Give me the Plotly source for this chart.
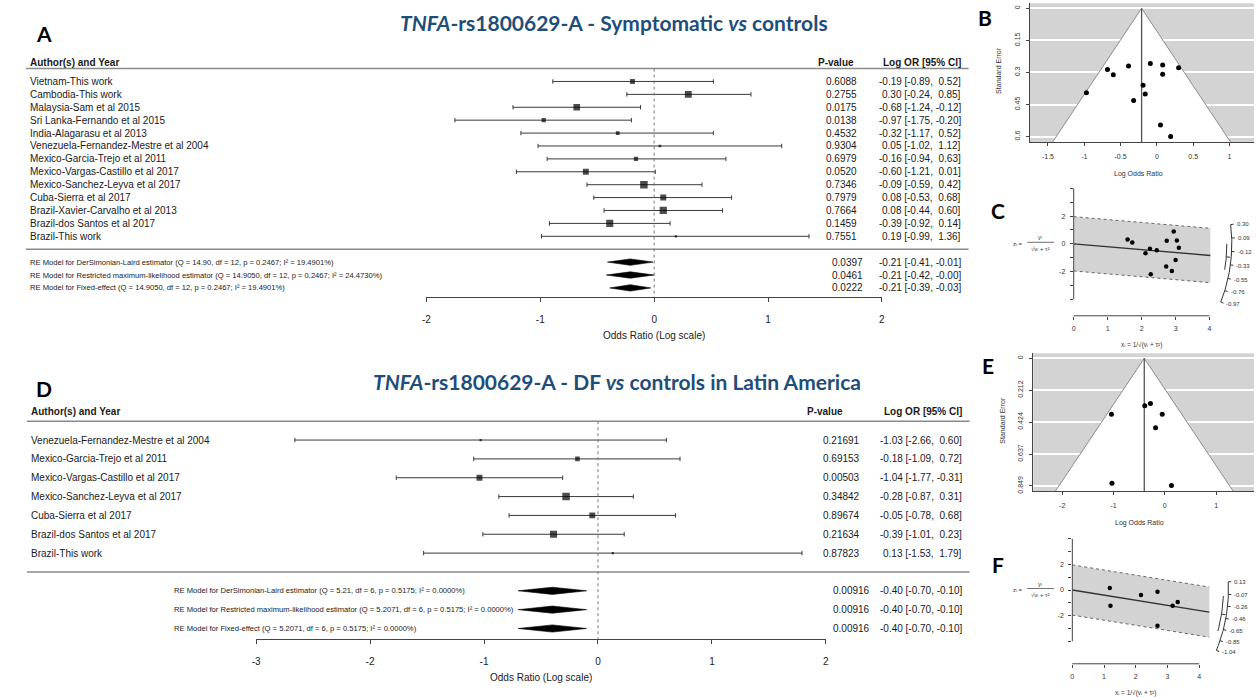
import numpy as np
import plotly.graph_objects as go

W, H = 1258, 697
SANS = "Liberation Sans, Arial, DejaVu Sans, sans-serif"
HEAD = "Lato, Open Sans, sans-serif"
TITLE_BLUE = "#1F4E79"
GREY_BG = "#D3D3D3"

# ---------------- Symptomatic vs controls ----------------
sym_studies = [
    "Vietnam-This work", "Cambodia-This work", "Malaysia-Sam et al 2015",
    "Sri Lanka-Fernando et al 2015", "India-Alagarasu et al 2013",
    "Venezuela-Fernandez-Mestre et al 2004", "Mexico-Garcia-Trejo et al 2011",
    "Mexico-Vargas-Castillo et al 2017", "Mexico-Sanchez-Leyva et al 2017",
    "Cuba-Sierra et al 2017", "Brazil-Xavier-Carvalho et al 2013",
    "Brazil-dos Santos et al 2017", "Brazil-This work",
]
sym_logor = [-0.19, 0.30, -0.68, -0.97, -0.32, 0.05, -0.16, -0.60, -0.09, 0.08, 0.08, -0.39, 0.19]
sym_lo = [-0.89, -0.24, -1.24, -1.75, -1.17, -1.02, -0.94, -1.21, -0.59, -0.53, -0.44, -0.92, -0.99]
sym_hi = [0.52, 0.85, -0.12, -0.20, 0.52, 1.12, 0.63, 0.01, 0.42, 0.68, 0.60, 0.14, 1.36]
sym_p = [0.6088, 0.2755, 0.0175, 0.0138, 0.4532, 0.9304, 0.6979, 0.0520, 0.7346, 0.7979, 0.7664, 0.1459, 0.7551]
sym_models = [
    "RE Model for DerSimonian-Laird estimator (Q = 14.90, df = 12, p = 0.2467; I² = 19.4901%)",
    "RE Model for Restricted maximum-likelihood estimator (Q = 14.9050, df = 12, p = 0.2467; I² = 24.4730%)",
    "RE Model for Fixed-effect (Q = 14.9050, df = 12, p = 0.2467; I² = 19.4901%)",
]
sym_model_p = [0.0397, 0.0461, 0.0222]
sym_model_est = [-0.21, -0.21, -0.21]
sym_model_lo = [-0.41, -0.42, -0.39]
sym_model_hi = [-0.01, -0.00, -0.03]
sym_tau2 = 0.038  # between-study variance used by the radial plot
sym_arc_ticks = [0.30, 0.09, -0.12, -0.33, -0.55, -0.76, -0.97]
sym_se_ticks = ["0", "0.15", "0.3", "0.45", "0.6"]
sym_lor_ticks = [-1.5, -1, -0.5, 0, 0.5, 1]

# ---------------- DF vs controls in Latin America ----------------
df_studies = [
    "Venezuela-Fernandez-Mestre et al 2004", "Mexico-Garcia-Trejo et al 2011",
    "Mexico-Vargas-Castillo et al 2017", "Mexico-Sanchez-Leyva et al 2017",
    "Cuba-Sierra et al 2017", "Brazil-dos Santos et al 2017", "Brazil-This work",
]
df_logor = [-1.03, -0.18, -1.04, -0.28, -0.05, -0.39, 0.13]
df_lo = [-2.66, -1.09, -1.77, -0.87, -0.78, -1.01, -1.53]
df_hi = [0.60, 0.72, -0.31, 0.31, 0.68, 0.23, 1.79]
df_p = [0.21691, 0.69153, 0.00503, 0.34842, 0.89674, 0.21634, 0.87823]
df_models = [
    "RE Model for DerSimonian-Laird estimator (Q = 5.21, df = 6, p = 0.5175; I² = 0.0000%)",
    "RE Model for Restricted maximum-likelihood estimator (Q = 5.2071, df = 6, p = 0.5175; I² = 0.0000%)",
    "RE Model for Fixed-effect (Q = 5.2071, df = 6, p = 0.5175; I² = 0.0000%)",
]
df_model_p = [0.00916, 0.00916, 0.00916]
df_model_est = [-0.40, -0.40, -0.40]
df_model_lo = [-0.70, -0.70, -0.70]
df_model_hi = [-0.10, -0.10, -0.10]
df_tau2 = 0.0
df_arc_ticks = [0.13, -0.07, -0.26, -0.46, -0.65, -0.85, -1.04]
df_se_ticks = ["0", "0.212", "0.424", "0.637", "0.849"]
df_lor_ticks = [-2, -1, 0, 1]


def px(x):
    return x / W


def py(y):
    return 1 - y / H


def ax_names(n):
    s = "" if n == 1 else str(n)
    return "x" + s, "y" + s, "xaxis" + s, "yaxis" + s


fig = go.Figure()
annotations = []
shapes = []
layout_axes = {}


def add_text(x, y, s, size=10, xanchor="left", color="#1a1a1a", family=SANS, angle=0):
    annotations.append(dict(
        x=px(x), y=py(y), xref="paper", yref="paper", text=s, showarrow=False,
        xanchor=xanchor, yanchor="middle", textangle=angle, borderpad=0,
        font=dict(size=size, color=color, family=family)))


def paper_line(x0, y0, x1, y1, color="#8a8a8a", width=1.5, dash="solid"):
    shapes.append(dict(type="line", xref="paper", yref="paper",
                       x0=px(x0), x1=px(x1), y0=py(y0), y1=py(y1),
                       line=dict(color=color, width=width, dash=dash)))


def ci_text(e, l, h):
    return f"{e:.2f} [{l:.2f}, {h:5.2f}]".replace("  ", " \u00a0")


def forest(n, studies, est, lo, hi, pvals, pdec, models, mp, mest, mlo, mhi, g):
    xa, ya, xk, yk = ax_names(n)
    est, lo, hi = np.array(est), np.array(lo), np.array(hi)
    k = len(studies)
    rows = np.arange(k)
    mrows = k + 1 + np.arange(len(models))
    row_py = lambda r: g["row0"] + g["step"] * r
    r_top = (g["top"] - g["row0"]) / g["step"]
    r_axis = (g["axis"] - g["row0"]) / g["step"]
    x_left = g["zero"] + g["unit"] * g["xmin"]
    x_right = g["zero"] + g["unit"] * g["xmax"]

    ticks = list(range(g["xmin"], g["xmax"] + 1))
    layout_axes[xk] = dict(
        domain=[px(x_left), px(x_right)], range=[g["xmin"], g["xmax"]], anchor=ya,
        showline=True, linecolor="#444", linewidth=1, ticks="outside", ticklen=4,
        tickcolor="#444", tickvals=ticks, ticktext=[str(t) for t in ticks],
        tickfont=dict(size=10, family=SANS, color="#222"), ticklabelstandoff=9,
        showgrid=False, zeroline=False, fixedrange=True)
    layout_axes[yk] = dict(
        domain=[py(g["axis"]), py(g["top"])], range=[r_axis, r_top], anchor=xa,
        visible=False, showgrid=False, zeroline=False, fixedrange=True)

    # header and separator rules, dotted reference line at zero
    paper_line(g["rule_x0"], row_py(-1.0), g["rule_x1"], row_py(-1.0))
    paper_line(g["rule_x0"], row_py(k), g["rule_x1"], row_py(k))
    paper_line(g["zero"], row_py(-1.0), g["zero"], g["axis"], color="#777", width=1, dash="dot")

    # confidence intervals with end caps
    cx, cy, kx, ky = [], [], [], []
    cap = 2.2 / g["step"]
    for r, l, h in zip(rows, lo, hi):
        cx += [l, h, None]
        cy += [r, r, None]
        kx += [l, l, None, h, h, None]
        ky += [r - cap, r + cap, None, r - cap, r + cap, None]
    fig.add_trace(go.Scatter(x=cx, y=cy, mode="lines", line=dict(color="#3a3a3a", width=1),
                             xaxis=xa, yaxis=ya, hoverinfo="skip", showlegend=False))
    fig.add_trace(go.Scatter(x=kx, y=ky, mode="lines", line=dict(color="#3a3a3a", width=1),
                             xaxis=xa, yaxis=ya, hoverinfo="skip", showlegend=False))

    # squares sized by precision
    prec = 3.92 / (hi - lo)
    size = 2.2 + 5.3 * (prec - prec.min()) / (prec.max() - prec.min())
    fig.add_trace(go.Scatter(x=est, y=rows, mode="markers",
                             marker=dict(symbol="square", size=size, color="black", line=dict(width=0)),
                             xaxis=xa, yaxis=ya, hoverinfo="skip", showlegend=False))

    # pooled estimates as diamonds
    dh = g["diamond"] / g["step"]
    for r, e, l, h in zip(mrows, mest, mlo, mhi):
        fig.add_trace(go.Scatter(x=[l, e, h, e, l], y=[r, r - dh, r, r + dh, r], mode="lines",
                                 fill="toself", fillcolor="black", line=dict(color="black", width=0.6),
                                 xaxis=xa, yaxis=ya, hoverinfo="skip", showlegend=False))

    # text columns
    add_text(g["label_x"], row_py(-1.5), "<b>Author(s) and Year</b>", size=10)
    add_text(g["phead_x"], row_py(-1.5), "<b>P-value</b>", size=10, xanchor="center")
    add_text(g["or_x"], row_py(-1.5), "<b>Log OR [95% CI]</b>", size=10, xanchor="right")
    for r, s, p, e, l, h in zip(rows, studies, pvals, est, lo, hi):
        add_text(g["label_x"], row_py(r), s, size=10)
        add_text(g["p_x"], row_py(r), f"{p:.{pdec}f}", size=10, xanchor="right")
        add_text(g["or_x"], row_py(r), ci_text(e, l, h), size=10, xanchor="right")
    for r, s, p, e, l, h in zip(mrows, models, mp, mest, mlo, mhi):
        add_text(g["mlabel_x"], row_py(r), s, size=7.6)
        add_text(g["mp_x"], row_py(r), f"{p:.{pdec}f}", size=10, xanchor="right")
        add_text(g["or_x"], row_py(r), ci_text(e, l, h), size=10, xanchor="right")
    add_text(g["zero"] + g["unit"] * (g["xmin"] + g["xmax"]) / 2, g["axis"] + 38,
             "Odds Ratio (Log scale)", size=10, xanchor="center")


def funnel(n, yi, lo, hi, est, se_ticks, lor_ticks, g):
    xa, ya, xk, yk = ax_names(n)
    yi = np.array(yi)
    se = (np.array(hi) - np.array(lo)) / 3.92
    xr = [(g["x0"] - g["zero"]) / g["unit"], (g["x1"] - g["zero"]) / g["unit"]]
    ytop = (g["y0"] - g["se0"]) / g["se_unit"]
    ybot = (g["y1"] - g["se0"]) / g["se_unit"]
    se_vals = [float(t) for t in se_ticks]
    layout_axes[xk] = dict(
        domain=[px(g["x0"]), px(g["x1"])], range=xr, anchor=ya,
        showline=True, linecolor="#444", linewidth=1, ticks="outside", ticklen=3,
        tickcolor="#444", tickvals=lor_ticks, ticktext=[f"{v:g}" for v in lor_ticks],
        tickfont=dict(size=7, family=SANS, color="#333"), ticklabelstandoff=4,
        showgrid=False, zeroline=False, fixedrange=True)
    layout_axes[yk] = dict(
        domain=[py(g["y1"]), py(g["y0"])], range=[ybot, ytop], anchor=xa,
        showline=True, linecolor="#444", linewidth=1, ticks="outside", ticklen=3,
        tickcolor="#444", tickvals=se_vals, ticktext=se_ticks, tickangle=-90,
        tickfont=dict(size=7, family=SANS, color="#333"), ticklabelstandoff=3,
        showgrid=True, gridcolor="white", gridwidth=1.6, zeroline=False, fixedrange=True)
    shapes.append(dict(type="rect", xref=f"{xa} domain", yref=f"{ya} domain",
                       x0=0, x1=1, y0=0, y1=1, layer="below",
                       fillcolor=GREY_BG, line=dict(width=0)))
    half = 1.96 * ybot
    fig.add_trace(go.Scatter(x=[est - half, est, est + half], y=[ybot, 0, ybot], mode="lines",
                             fill="toself", fillcolor="white", line=dict(color="#8c8c8c", width=1),
                             xaxis=xa, yaxis=ya, hoverinfo="skip", showlegend=False))
    fig.add_trace(go.Scatter(x=[est, est], y=[0, ybot], mode="lines",
                             line=dict(color="#555", width=1.3),
                             xaxis=xa, yaxis=ya, hoverinfo="skip", showlegend=False))
    fig.add_trace(go.Scatter(x=yi, y=se, mode="markers", marker=dict(size=5, color="black"),
                             xaxis=xa, yaxis=ya, hoverinfo="skip", showlegend=False))
    add_text(g["zero"] + g["unit"] * (xr[0] + xr[1]) / 2 - 4, g["y1"] + 32, "Log Odds Ratio", size=7,
             xanchor="center", color="#333")
    add_text(g["x0"] - 31, (g["y0"] + g["y1"]) / 2 - 2, "Standard Error", size=7,
             xanchor="center", color="#333", angle=-90)


def radial(n, yi, lo, hi, tau2, est, est_lo, est_hi, arc_vals, g):
    xa, ya, xk, yk = ax_names(n)
    yi = np.array(yi)
    se = (np.array(hi) - np.array(lo)) / 3.92
    xi = 1 / np.sqrt(se ** 2 + tau2)
    zi = yi * xi
    xr = 1.3 * xi.max()
    sx, sz, ox, oz = g["sx"], g["sz"], g["ox"], g["oz"]

    layout_axes[xk] = dict(
        domain=[px(ox), px(g["x1"])], range=[0, (g["x1"] - ox) / sx],
        anchor="free", position=py(g["xaxis_py"]), showline=False,
        ticks="outside", ticklen=3, tickcolor="#444", tickvals=[0, 1, 2, 3, 4],
        ticktext=["0", "1", "2", "3", "4"], tickfont=dict(size=7, family=SANS, color="#333"),
        ticklabelstandoff=3, showgrid=False, zeroline=False, fixedrange=True)
    layout_axes[yk] = dict(
        domain=[py(g["y1"]), py(g["y0"])], range=[(oz - g["y1"]) / sz, (oz - g["y0"]) / sz],
        anchor=xa, showline=False, ticks="outside", ticklen=3, tickcolor="#444",
        tickvals=[-2, 0, 2], ticktext=["-2", "0", "2"],
        minor=dict(tickvals=[-4, -3, -1, 1, 3, 4], ticks="outside", ticklen=3,
                   tickcolor="#444", showgrid=False),
        tickfont=dict(size=7, family=SANS, color="#333"), ticklabelstandoff=3,
        showgrid=False, zeroline=False, fixedrange=True)
    # axis rules spanning the tick range only
    paper_line(ox, g["xaxis_py"], ox + 4 * sx, g["xaxis_py"], color="#444", width=1)
    paper_line(ox, oz - 4 * sz, ox, oz + 4 * sz, color="#444", width=1)

    # +/- 1.96 band around the pooled-effect line
    fig.add_trace(go.Scatter(x=[0, xr, xr, 0, 0], y=[1.96, 1.96 + est * xr, -1.96 + est * xr, -1.96, 1.96],
                             mode="lines", fill="toself", fillcolor=GREY_BG, line=dict(width=0),
                             xaxis=xa, yaxis=ya, hoverinfo="skip", showlegend=False))
    for sgn in (1, -1):
        fig.add_trace(go.Scatter(x=[0, xr], y=[sgn * 1.96, sgn * 1.96 + est * xr], mode="lines",
                                 line=dict(color="#666", width=1, dash="dot"),
                                 xaxis=xa, yaxis=ya, hoverinfo="skip", showlegend=False))
    fig.add_trace(go.Scatter(x=[0, xr], y=[0, est * xr], mode="lines", line=dict(color="#333", width=1.3),
                             xaxis=xa, yaxis=ya, hoverinfo="skip", showlegend=False))
    fig.add_trace(go.Scatter(x=xi, y=zi, mode="markers", marker=dict(size=4.5, color="black"),
                             xaxis=xa, yaxis=ya, hoverinfo="skip", showlegend=False))

    # effect-size arc on the right
    def arc(theta, rad):
        phi = np.arctan2(np.asarray(theta) * sz, sx)
        return rad * np.cos(phi) / sx, rad * np.sin(phi) / sz, phi

    R = g["R"]
    th = np.linspace(arc_vals[0], arc_vals[-1], 60)
    ax_, az_, _ = arc(th, R)
    fig.add_trace(go.Scatter(x=ax_, y=az_, mode="lines", line=dict(color="#333", width=1),
                             xaxis=xa, yaxis=ya, hoverinfo="skip", showlegend=False))
    tx, tz = [], []
    for v in arc_vals:
        x0, z0, phi = arc(v, R)
        x1, z1, _ = arc(v, R + 3)
        tx += [float(x0), float(x1), None]
        tz += [float(z0), float(z1), None]
        add_text(ox + (R + 5) * np.cos(phi), oz - (R + 5) * np.sin(phi), f"{v:.2f}",
                 size=6, color="#333")
    fig.add_trace(go.Scatter(x=tx, y=tz, mode="lines", line=dict(color="#333", width=1),
                             xaxis=xa, yaxis=ya, hoverinfo="skip", showlegend=False))
    th_ci = np.linspace(est_hi, est_lo, 20)
    cx_, cz_, _ = arc(th_ci, R - 5)
    fig.add_trace(go.Scatter(x=cx_, y=cz_, mode="lines", line=dict(color="#333", width=1),
                             xaxis=xa, yaxis=ya, hoverinfo="skip", showlegend=False))
    ex0, ez0, _ = arc(est, R - 5)
    ex1, ez1, _ = arc(est, R - 1)
    fig.add_trace(go.Scatter(x=[ex0, ex1], y=[ez0, ez1], mode="lines", line=dict(color="#333", width=1),
                             xaxis=xa, yaxis=ya, hoverinfo="skip", showlegend=False))

    # axis titles (fraction drawn as numerator, rule, denominator)
    add_text(1026, oz, "z\u1d62 =", size=6, xanchor="right", color="#333")
    add_text(1042, oz - 6.5, "y\u1d62", size=6, xanchor="center", color="#333")
    paper_line(1029, oz - 1.5, 1056, oz - 1.5, color="#333", width=0.7)
    add_text(1042, oz + 5.5, "\u221av\u1d62 + \u03c4\u00b2", size=6, xanchor="center", color="#333")
    add_text(ox + 2 * sx, g["xaxis_py"] + 29, "x\u1d62 = 1/\u221a(v\u1d62 + \u03c4\u00b2)",
             size=6.5, xanchor="center", color="#333")


# --- panel A: forest plot, symptomatic vs controls
forest(1, sym_studies, sym_logor, sym_lo, sym_hi, sym_p, 4,
       sym_models, sym_model_p, sym_model_est, sym_model_lo, sym_model_hi,
       dict(row0=81.7, step=12.94, top=52, axis=298, zero=653.8, unit=114.5, xmin=-2, xmax=2,
            rule_x0=22, rule_x1=970, label_x=25.5, phead_x=836.5, p_x=859, mp_x=865, or_x=963,
            mlabel_x=25.5, diamond=3.2))

# --- panel B: funnel plot, symptomatic vs controls
funnel(2, sym_logor, sym_lo, sym_hi, sym_model_est[1], sym_se_ticks, sym_lor_ticks,
       dict(x0=1031.7, x1=1257, zero=1159.3, unit=73.0, y0=3.2, y1=142.7, se0=8.3, se_unit=214.5))

# --- panel C: radial plot, symptomatic vs controls
radial(3, sym_logor, sym_lo, sym_hi, sym_tau2, sym_model_est[1], sym_model_lo[1], sym_model_hi[1],
       sym_arc_ticks,
       dict(ox=1075.7, oz=244.5, sx=34.15, sz=13.9, R=159, x1=1257, y0=183, y1=322, xaxis_py=316.7))

# --- panel D: forest plot, DF vs controls in Latin America
forest(4, df_studies, df_logor, df_lo, df_hi, df_p, 5,
       df_models, df_model_p, df_model_est, df_model_lo, df_model_hi,
       dict(row0=441.3, step=18.9, top=400, axis=641, zero=597.3, unit=114.6, xmin=-3, xmax=2,
            rule_x0=23, rule_x1=971, label_x=26.5, phead_x=825.5, p_x=862, mp_x=871.7, or_x=964.3,
            mlabel_x=170, diamond=3.6))

# --- panel E: funnel plot, DF vs controls
funnel(5, df_logor, df_lo, df_hi, df_model_est[1], df_se_ticks, df_lor_ticks,
       dict(x0=1035, x1=1257, zero=1167.3, unit=51.6, y0=354.2, y1=492.7, se0=359.3, se_unit=150.8))

# --- panel F: radial plot, DF vs controls
radial(6, df_logor, df_lo, df_hi, df_tau2, df_model_est[1], df_model_lo[1], df_model_hi[1],
       df_arc_ticks,
       dict(ox=1074.3, oz=591.7, sx=31.9, sz=12.83, R=157, x1=1257, y0=532, y1=668, xaxis_py=665.7))

# titles and panel letters
add_text(613, 23, "<b><i>TNFA</i>-rs1800629-A - Symptomatic <i>vs</i> controls</b>",
         size=21, xanchor="center", color=TITLE_BLUE, family=HEAD)
add_text(616, 383, "<b><i>TNFA</i>-rs1800629-A - DF <i>vs</i> controls in Latin America</b>",
         size=21, xanchor="center", color=TITLE_BLUE, family=HEAD)
for letter, x, y in [("A", 40.5, 34), ("B", 986, 18), ("C", 1000, 211),
                     ("D", 40.5, 390), ("E", 990, 367), ("F", 1000, 566)]:
    add_text(x, y, f"<b>{letter}</b>", size=21, xanchor="center", color="black", family=HEAD)

fig.update_layout(
    width=W, height=H, margin=dict(l=0, r=0, t=0, b=0),
    paper_bgcolor="white", plot_bgcolor="rgba(0,0,0,0)",
    showlegend=False, annotations=annotations, shapes=shapes,
    **layout_axes,
)
fig.write_html("out.html")
